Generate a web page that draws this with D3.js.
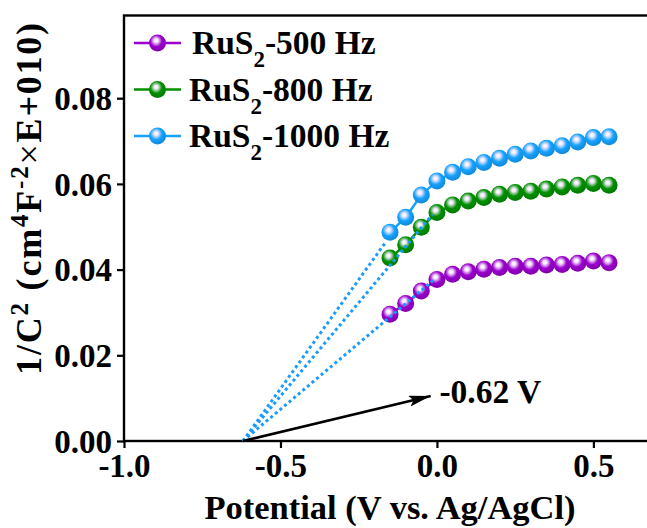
<!DOCTYPE html>
<html>
<head>
<meta charset="utf-8">
<script src="https://cdn.jsdelivr.net/npm/d3@7"></script>
<style>
  body { margin: 0; background: #fff; }
  svg { display: block; }
</style>
</head>
<body>
<script>
'use strict';

// potential (V vs. Ag/AgCl) of every measured point
const potentials = [-0.15, -0.10, -0.05, 0.00, 0.05, 0.10, 0.15, 0.20, 0.25, 0.30, 0.35, 0.40, 0.45, 0.50, 0.55];

// 1/C^2 values
const c500 = [0.0296, 0.0321, 0.0350, 0.0377, 0.0389, 0.0395, 0.0401, 0.0405, 0.0408, 0.0408, 0.0411, 0.0412, 0.0415, 0.0420, 0.0416];
const c800 = [0.0427, 0.0458, 0.0499, 0.0533, 0.0551, 0.0560, 0.0568, 0.0576, 0.0580, 0.0583, 0.0588, 0.0593, 0.0597, 0.0601, 0.0597];
const c1000 = [0.0487, 0.0522, 0.0574, 0.0607, 0.0627, 0.0640, 0.0650, 0.0660, 0.0669, 0.0677, 0.0683, 0.0689, 0.0698, 0.0708, 0.0710];

const seriesNames = ['500 Hz', '800 Hz', '1000 Hz'];
const seriesColors = ['#9b00cc', '#009100', '#16a2ff'];

// Mott-Schottky fit lines: start at the flat band potential, end near the data
const flatBand = -0.62;
const fitEndX = [-0.01, -0.015, -0.163];
const fitEndY = [0.0376, 0.0528, 0.0465];

// arrow + label
const arrowTip = [-0.02, 0.0105];
const labelPos = [0.008, 0.0089];

const xTicks = [-1.0, -0.5, 0.0, 0.5];
const yTicks = [0.00, 0.02, 0.04, 0.06, 0.08];

const width = 647, height = 528;
const font = '"Times New Roman", "Liberation Serif", serif';

let svg = d3.select('body').append('svg')
  .attr('width', width)
  .attr('height', height)
  .style('font-family', font);

let x = d3.scaleLinear().domain([-1.0, 0.7]).range([124, 656]);
let y = d3.scaleLinear().domain([0, 0.0993]).range([441, 15.5]);

let defs = svg.append('defs');

// shiny ball gradient for each colour
seriesColors.forEach(function(c, i) {
  let g = defs.append('radialGradient')
    .attr('id', 'ball' + i)
    .attr('cx', '0.42').attr('cy', '0.38').attr('r', '0.62')
    .attr('fx', '0.42').attr('fy', '0.36');
  g.append('stop').attr('offset', '0%').attr('stop-color', '#ffffff');
  g.append('stop').attr('offset', '18%').attr('stop-color', '#f4e8ff').attr('stop-opacity', 0.95);
  g.append('stop').attr('offset', '55%').attr('stop-color', c);
  g.append('stop').attr('offset', '100%').attr('stop-color', d3.color(c).darker(0.5));
});

defs.append('marker')
  .attr('id', 'arrowhead')
  .attr('viewBox', '0 0 20 10')
  .attr('refX', 20).attr('refY', 5)
  .attr('markerWidth', 22).attr('markerHeight', 11)
  .attr('markerUnits', 'userSpaceOnUse')
  .attr('orient', 'auto')
  .append('path')
  .attr('d', 'M0,0 L20,5 L0,10 L4,5 Z')
  .attr('fill', '#000');

// plain hyphen for negatives, like the original
let fmt1 = function(d) { return d3.format('.1f')(d).replace('\u2212', '-'); };

// axes
let xAxis = d3.axisBottom(x).tickValues(xTicks).tickFormat(fmt1).tickSize(7).tickSizeOuter(0);
let yAxis = d3.axisLeft(y).tickValues(yTicks).tickFormat(d3.format('.2f')).tickSize(7).tickSizeOuter(0);

let gx = svg.append('g').attr('transform', 'translate(0,441)').call(xAxis);
let gy = svg.append('g').attr('transform', 'translate(124,0)').call(yAxis);

[gx, gy].forEach(function(g) {
  g.select('.domain').remove();
  g.selectAll('line').attr('stroke', '#000').attr('stroke-width', 2.2);
  g.selectAll('text')
    .attr('fill', '#000')
    .style('font-family', font)
    .style('font-weight', 'bold')
    .style('font-size', '33px');
});
gx.selectAll('text').attr('y', 13).attr('dy', '0.71em');
gy.selectAll('text').attr('x', -12).attr('dy', '0.34em');

// frame
svg.append('rect')
  .attr('x', x(-1.0)).attr('y', y.range()[1])
  .attr('width', x(0.7) - x(-1.0))
  .attr('height', y(0) - y.range()[1])
  .attr('fill', 'none')
  .attr('stroke', '#000')
  .attr('stroke-width', 2.4);

// axis titles
svg.append('text')
  .attr('x', 390).attr('y', 519)
  .attr('text-anchor', 'middle')
  .style('font-weight', 'bold')
  .style('font-size', '34.5px')
  .text('Potential (V vs. Ag/AgCl)');

let ylab = svg.append('text')
  .attr('transform', 'translate(41,198) rotate(-90)')
  .attr('text-anchor', 'middle')
  .style('font-weight', 'bold')
  .style('font-size', '36px')
  .style('letter-spacing', '1.8px');
ylab.append('tspan').text('1/C');
ylab.append('tspan').attr('baseline-shift', 'super').style('font-size', '25px').text('2');
ylab.append('tspan').text(' (cm');
ylab.append('tspan').attr('baseline-shift', 'super').style('font-size', '25px').text('4');
ylab.append('tspan').text('F');
ylab.append('tspan').attr('baseline-shift', 'super').style('font-size', '25px').text('-2');
ylab.append('tspan').style('font-weight', 'normal').text('×');
ylab.append('tspan').text('E+010)');

// data series
let allSeries = [c500, c800, c1000];
let line = d3.line()
  .x(function(d) { return x(d[0]); })
  .y(function(d) { return y(d[1]); });

allSeries.forEach(function(vals, i) {
  let pts = potentials.map(function(p, j) { return [p, vals[j]]; });
  svg.append('path')
    .datum(pts)
    .attr('d', line)
    .attr('fill', 'none')
    .attr('stroke', seriesColors[i])
    .attr('stroke-width', 2.5);
  svg.append('g').selectAll('circle')
    .data(pts)
    .enter()
    .append('circle')
      .attr('cx', function(d) { return x(d[0]); })
      .attr('cy', function(d) { return y(d[1]); })
      .attr('r', 8.5)
      .attr('fill', 'url(#ball' + i + ')');
});

// dotted fit lines, drawn over the balls
fitEndX.forEach(function(ex, i) {
  svg.append('line')
    .attr('x1', x(flatBand)).attr('y1', y(0))
    .attr('x2', x(ex)).attr('y2', y(fitEndY[i]))
    .attr('stroke', '#1a9bff')
    .attr('stroke-width', 3)
    .attr('stroke-dasharray', '3,3');
});

// arrow and label
svg.append('line')
  .attr('x1', x(flatBand)).attr('y1', y(0))
  .attr('x2', x(arrowTip[0])).attr('y2', y(arrowTip[1]))
  .attr('stroke', '#000')
  .attr('stroke-width', 2.6)
  .attr('marker-end', 'url(#arrowhead)');

svg.append('text')
  .attr('x', x(labelPos[0])).attr('y', y(labelPos[1]))
  .style('font-weight', 'bold')
  .style('font-size', '33.5px')
  .text('-0.62 V');

// legend
let legend = svg.append('g');
seriesNames.forEach(function(name, i) {
  let ly = 43 + i * 46.5;
  legend.append('line')
    .attr('x1', 134).attr('x2', 181)
    .attr('y1', ly).attr('y2', ly)
    .attr('stroke', seriesColors[i])
    .attr('stroke-width', 2.5);
  legend.append('circle')
    .attr('cx', 157.5).attr('cy', ly)
    .attr('r', 8.5)
    .attr('fill', 'url(#ball' + i + ')');
  let t = legend.append('text')
    .attr('x', i == 0 ? 192 : 189).attr('y', ly + 11)
    .style('font-weight', 'bold')
    .style('font-size', '33.5px');
  t.append('tspan').text('RuS');
  t.append('tspan').attr('baseline-shift', 'sub').style('font-size', '23px').text('2');
  t.append('tspan').text('-' + name);
});
</script>
</body>
</html>
